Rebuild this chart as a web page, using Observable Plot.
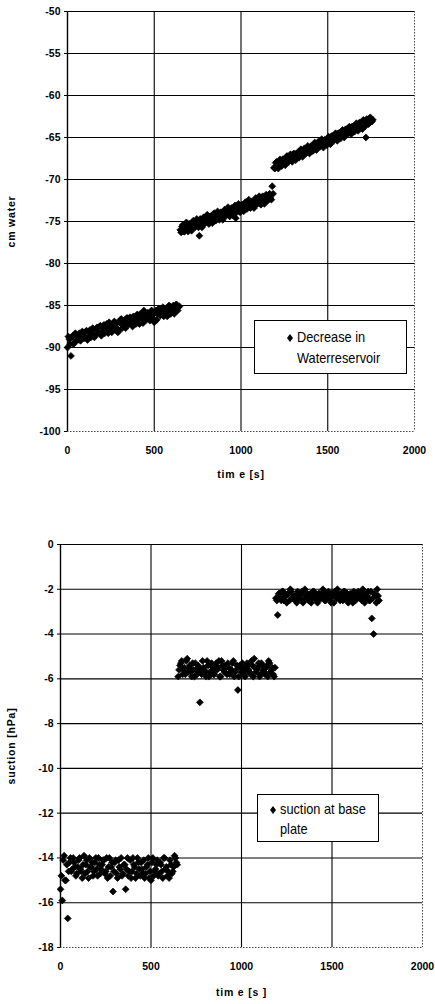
<!DOCTYPE html>
<html>
<head>
<meta charset="utf-8">
<script src="https://cdn.jsdelivr.net/npm/d3@7"></script>
<script src="https://cdn.jsdelivr.net/npm/@observablehq/plot@0.6"></script>
<style>
  html, body { margin: 0; padding: 0; background: #fff; }
  #wrap { position: relative; width: 435px; height: 1004px; overflow: hidden; }
  #wrap svg.chart { position: absolute; left: 0; }
  g[aria-label="y-axis label"] text, g[aria-label="x-axis label"] text { letter-spacing: 0.8px; }
  .legend { position: absolute; box-sizing: border-box; border: 1.3px solid #000; background: #fff;
            font-family: "Liberation Sans", Arial, sans-serif;
            font-size: 14.5px; color: #000; }
  .legend .row { position: absolute; white-space: nowrap; transform: scaleX(0.88); transform-origin: 0 50%; }
  .legend svg { position: absolute; }
</style>
</head>
<body>
<div id="wrap"></div>
<script>
// readings at full 10 s marks [s]
const time = [
  0,10,20,30,40,50,60,70,80,90,100,110,120,130,140,150,160,170,180,190,
  200,210,220,230,240,250,260,270,280,290,300,310,320,330,340,350,360,370,380,390,
  400,410,420,430,440,450,460,470,480,490,500,510,520,530,540,550,560,570,580,590,
  600,610,620,630,640,
  650,660,670,680,690,700,710,720,730,740,750,760,770,780,790,800,810,820,830,840,
  850,860,870,880,890,900,910,920,930,940,950,960,970,980,990,1000,1010,1020,1030,1040,
  1050,1060,1070,1080,1090,1100,1110,1120,1130,1140,1150,1160,1170,1180,
  1190,1200,1210,1220,1230,1240,1250,1260,1270,1280,1290,1300,1310,1320,1330,1340,
  1350,1360,1370,1380,1390,1400,1410,1420,1430,1440,1450,1460,1470,1480,1490,1500,
  1510,1520,1530,1540,1550,1560,1570,1580,1590,1600,1610,1620,1630,1640,1650,1660,
  1670,1680,1690,1700,1710,1720,1730,1740,1750,1760
];

// intermediate readings [s]
const time2 = [
  5,15,25,35,45,55,65,75,85,95,105,115,125,135,145,155,165,175,185,195,
  205,215,225,235,245,255,265,275,285,295,305,315,325,335,345,355,365,375,385,395,
  405,415,425,435,445,455,465,475,485,495,505,515,525,535,545,555,565,575,585,595,
  605,615,625,635,645,
  655,665,675,685,695,705,715,725,735,745,755,765,775,785,795,805,815,825,835,845,
  855,865,875,885,895,905,915,925,935,945,955,965,975,985,995,1005,1015,1025,1035,1045,
  1055,1065,1075,1085,1095,1105,1115,1125,1135,1145,1155,1165,1175,1185,
  1195,1205,1215,1225,1235,1245,1255,1265,1275,1285,1295,1305,1315,1325,1335,1345,
  1355,1365,1375,1385,1395,1405,1415,1425,1435,1445,1455,1465,1475,1485,1495,1505,
  1515,1525,1535,1545,1555,1565,1575,1585,1595,1605,1615,1625,1635,1645,1655,1665,
  1675,1685,1695,1705,1715,1725,1735,1745,1755
];

// Decrease in Waterreservoir [cm water] at `time`
const waterLevel = [
  -90.0,-89.0,-91.0,-88.6,-89.4,-88.5,-89.1,-88.3,-88.9,-88.2,-88.8,-88.0,-88.7,-87.9,-88.4,-87.8,-88.5,-87.6,-88.2,-87.4,
  -88.1,-87.3,-87.9,-87.5,-87.0,-87.8,-87.2,-86.9,-87.6,-88.2,-87.0,-86.6,-87.4,-86.8,-86.5,-87.2,-86.4,-87.0,-86.3,-86.9,
  -86.1,-86.7,-86.0,-86.5,-85.6,-86.3,-85.9,-86.4,-85.7,-86.2,-87.0,-85.6,-86.0,-85.4,-85.9,-85.2,-85.8,-85.3,-85.7,-85.1,
  -85.6,-85.0,-85.5,-84.9,-85.2,
  -76.0,-75.6,-76.2,-75.5,-75.9,-75.3,-75.8,-75.2,-75.6,-75.0,-75.4,-76.7,-75.1,-74.7,-75.2,-74.6,-75.0,-74.4,-74.9,-74.3,
  -74.7,-74.2,-74.6,-74.0,-74.4,-73.9,-74.3,-73.7,-74.1,-73.6,-74.0,-73.4,-74.6,-73.3,-73.8,-73.2,-73.6,-73.0,-73.4,-72.9,
  -73.3,-72.7,-73.1,-72.6,-72.9,-72.4,-72.8,-72.2,-72.6,-72.1,-72.4,-71.8,-72.2,-70.8,
  -68.6,-68.0,-68.3,-67.9,-68.2,-67.6,-67.9,-67.4,-67.8,-67.2,-67.6,-67.0,-67.4,-66.9,-67.2,-66.7,
  -67.0,-66.5,-66.9,-66.3,-66.7,-66.1,-66.5,-65.9,-66.3,-65.7,-66.0,-65.5,-65.9,-65.3,-65.6,-65.1,
  -65.5,-64.9,-65.2,-64.7,-65.0,-64.5,-64.8,-64.3,-64.6,-64.1,-64.4,-63.9,-64.2,-63.7,-64.0,-63.5,
  -63.8,-63.3,-63.6,-64.0,-63.1,-65.0,-63.0,-63.3,-62.8,-62.9
];

// Decrease in Waterreservoir [cm water] at `time2`
const waterLevel2 = [
  -88.7,-89.6,-88.8,-89.6,-88.3,-89.1,-88.4,-89.2,-88.1,-88.9,-88.1,-89.1,-88.1,-88.8,-87.7,-88.8,-87.8,-88.3,-87.5,-88.6,
  -87.6,-88.3,-87.2,-88.3,-87.5,-88.2,-87.1,-87.8,-87.1,-88.0,-86.7,-87.7,-86.9,-87.7,-86.5,-87.2,-86.5,-87.5,-86.4,-87.2,
  -86.1,-87.2,-86.3,-87.1,-85.8,-86.7,-85.9,-86.8,-85.6,-86.6,-85.7,-86.7,-85.4,-86.2,-85.4,-86.3,-85.4,-86.3,-85.0,-86.0,
  -85.2,-86.0,-84.9,-85.6,-85.1,
  -76.3,-75.4,-76.2,-75.1,-76.2,-75.3,-76.1,-74.9,-75.7,-74.7,-75.7,-74.7,-75.7,-74.5,-75.2,-74.2,-75.3,-74.4,-75.2,-74.0,
  -74.9,-73.8,-74.8,-73.9,-74.8,-73.6,-74.3,-73.3,-74.4,-73.4,-74.3,-73.1,-73.9,-72.9,-73.9,-73.0,-73.8,-72.7,-73.5,-72.4,
  -73.4,-72.6,-73.4,-72.2,-72.9,-72.0,-73.0,-72.0,-72.9,-71.8,-72.5,-71.7,-72.4,-71.7,
  -68.7,-67.9,-68.7,-67.6,-68.4,-67.6,-68.3,-67.2,-67.9,-67.0,-67.9,-66.9,-67.7,-66.8,-67.4,-66.4,
  -67.3,-66.3,-66.9,-66.0,-66.9,-66.0,-66.6,-65.6,-66.5,-65.5,-66.1,-65.2,-66.2,-65.3,-65.9,-64.9,
  -65.8,-64.8,-65.4,-64.5,-65.4,-64.5,-65.1,-64.1,-65.0,-64.0,-64.6,-63.7,-64.6,-63.7,-64.3,-63.3,
  -64.2,-63.2,-63.8,-62.9,-63.7,-62.8,-63.4,-62.6,-63.1
];

// suction at base plate [hPa] at `time`
const suction = [
  -15.4,-15.9,-13.9,-15.0,-16.7,-14.2,-14.6,-14.0,-14.4,-14.7,-14.1,-14.5,-14.9,-13.9,-14.3,-14.6,-14.0,-14.4,-14.8,-14.2,
  -14.5,-14.0,-14.7,-14.3,-14.1,-14.6,-14.9,-14.0,-14.4,-15.5,-14.2,-14.7,-14.1,-14.5,-14.8,-14.3,-15.4,-14.0,-14.6,-14.9,
  -14.0,-14.4,-14.7,-14.2,-14.8,-14.5,-14.1,-14.7,-14.3,-14.9,-15.0,-14.0,-14.6,-14.3,-14.8,-14.2,-14.6,-14.0,-14.5,-14.8,
  -14.9,-14.3,-14.6,-13.9,-14.2,
  -5.9,-5.4,-5.2,-5.6,-5.8,-5.1,-5.5,-5.7,-5.3,-5.9,-5.6,-5.4,-7.05,-5.8,-5.5,-5.7,-5.2,-5.9,-5.4,-5.6,
  -5.8,-5.3,-5.5,-5.9,-5.2,-5.6,-5.4,-5.8,-5.5,-5.7,-5.3,-5.9,-5.6,-6.5,-5.4,-5.7,-5.5,-5.9,-5.3,-5.6,
  -5.8,-5.4,-5.1,-5.7,-5.5,-5.9,-5.3,-5.6,-5.8,-5.4,-5.2,-5.7,-5.5,-5.9,
  -2.4,-3.15,-2.2,-2.5,-2.1,-2.3,-2.6,-2.2,-2.0,-2.4,-2.3,-2.5,-2.1,-2.4,-2.2,-2.6,
  -2.0,-2.3,-2.5,-2.2,-2.4,-2.1,-2.3,-2.6,-2.2,-2.4,-2.0,-2.5,-2.3,-2.1,-2.4,-2.2,
  -2.6,-2.3,-2.0,-2.4,-2.2,-2.5,-2.1,-2.3,-2.6,-2.2,-2.4,-2.1,-2.5,-2.3,-2.2,-2.4,
  -2.0,-2.6,-2.3,-2.1,-2.5,-3.3,-4.0,-2.3,-2.0,-2.5
];

// suction at base plate [hPa] at `time2`
const suction2 = [
  -14.8,-14.1,-15.0,-14.3,-14.6,-14.0,-14.5,-14.2,-14.8,-14.4,-14.0,-14.6,-14.3,-14.7,-14.1,-14.9,-14.4,-14.2,-14.6,-14.0,
  -14.8,-14.3,-14.5,-14.1,-14.7,-14.0,-14.4,-14.8,-14.2,-14.6,-14.1,-14.9,-14.4,-14.0,-14.7,-14.3,-14.5,-14.8,-14.1,-14.6,
  -14.3,-14.9,-14.0,-14.5,-14.2,-14.7,-14.9,-14.4,-14.0,-14.6,-14.2,-14.8,-14.5,-14.1,-14.7,-14.3,-14.9,-14.0,-14.4,-14.6,
  -14.1,-14.7,-14.4,-14.0,-14.3,
  -5.6,-5.3,-5.8,-5.5,-5.2,-5.7,-5.4,-5.9,-5.6,-5.3,-5.8,-5.5,-5.7,-5.2,-5.6,-5.9,-5.4,-5.7,-5.3,-5.8,
  -5.5,-5.6,-5.2,-5.9,-5.4,-5.7,-5.5,-5.3,-5.8,-5.6,-5.2,-5.7,-5.4,-5.9,-5.5,-5.3,-5.8,-5.6,-5.4,-5.7,
  -5.2,-5.9,-5.5,-5.6,-5.3,-5.8,-5.4,-5.7,-5.5,-5.9,-5.3,-5.6,-5.8,-5.5,
  -2.5,-2.2,-2.4,-2.1,-2.5,-2.3,-2.2,-2.5,-2.1,-2.4,-2.3,-2.6,-2.2,-2.4,-2.1,-2.5,
  -2.3,-2.2,-2.4,-2.6,-2.1,-2.3,-2.5,-2.2,-2.4,-2.3,-2.1,-2.5,-2.2,-2.4,-2.6,-2.3,
  -2.1,-2.4,-2.2,-2.5,-2.3,-2.1,-2.4,-2.2,-2.5,-2.3,-2.6,-2.2,-2.4,-2.1,-2.3,-2.5,
  -2.2,-2.4,-2.3,-2.5,-2.1,-2.4,-2.2,-2.6,-2.3
];

const xTicks = [0, 500, 1000, 1500, 2000];
const yTicksWater = [-100, -95, -90, -85, -80, -75, -70, -65, -60, -55, -50];
const yTicksSuction = [-18, -16, -14, -12, -10, -8, -6, -4, -2, 0];

const pairs = (ts, vs) => ts.map((t, i) => ({t, v: vs[i]}));
const waterData = pairs(time, waterLevel).concat(pairs(time2, waterLevel2));
const suctionData = pairs(time, suction).concat(pairs(time2, suction2));

const baseStyle = {fontFamily: '"Liberation Sans", Arial, sans-serif', fontSize: "10.5px", fontWeight: "bold", color: "#000", background: "#fff", overflow: "visible"};

function chart({data, height, margins, yDomain, yTicks, yLabel, xLabel, yLabelOffset, xLabelOffset}) {
  const [mt, mr, mb, ml] = margins;
  return Plot.plot({
    width: 435, height,
    marginTop: mt, marginRight: mr, marginBottom: mb, marginLeft: ml,
    style: baseStyle,
    x: {domain: [0, 2000]},
    y: {domain: yDomain},
    marks: [
      Plot.gridY(yTicks.slice(1), {stroke: "#000", strokeOpacity: 1, strokeWidth: 1.1}),
      Plot.gridX(xTicks.slice(1, -1), {stroke: "#000", strokeOpacity: 1, strokeWidth: 1.1}),
      Plot.ruleX([2000], {stroke: "#444", strokeDasharray: "1.5,1.5"}),
      Plot.ruleY([yDomain[0]], {stroke: "#444", strokeDasharray: "1.5,1.5"}),
      Plot.ruleX([0], {stroke: "#000", strokeWidth: 1.4}),
      Plot.axisY(yTicks, {tickSize: 3, tickPadding: 4, tickFormat: d => `${d}`, label: yLabel, labelAnchor: "center", labelArrow: "none", labelOffset: yLabelOffset}),
      Plot.axisX(xTicks, {tickSize: 0, tickPadding: 15, tickFormat: d => `${d}`, label: xLabel, labelAnchor: "center", labelArrow: "none", labelOffset: xLabelOffset}),
      Plot.dot(data, {x: "t", y: "v", symbol: "diamond2", fill: "#000", stroke: "#000", strokeWidth: 0.7, r: 3.1})
    ]
  });
}

const wrap = document.getElementById("wrap");

const c1 = chart({data: waterData, height: 500, margins: [11, 21, 69, 67], yDomain: [-100, -50], yTicks: yTicksWater,
  yLabel: "cm water", xLabel: "tim e [s]", yLabelOffset: 60, xLabelOffset: 46});
c1.classList.add("chart"); c1.style.top = "0px";
wrap.appendChild(c1);

const c2 = chart({data: suctionData, height: 504, margins: [44, 13, 57, 60], yDomain: [-18, 0], yTicks: yTicksSuction,
  yLabel: "suction [hPa]", xLabel: "tim e [s ]", yLabelOffset: 53, xLabelOffset: 48});
c2.classList.add("chart"); c2.style.top = "500px";
wrap.appendChild(c2);

function legend({left, top, width, height, lines, dx, textX, firstY, lineH}) {
  const box = document.createElement("div");
  box.className = "legend";
  Object.assign(box.style, {left: left + "px", top: top + "px", width: width + "px", height: height + "px"});
  const sym = document.createElementNS("http://www.w3.org/2000/svg", "svg");
  sym.setAttribute("width", 8); sym.setAttribute("height", 10);
  Object.assign(sym.style, {left: (dx - 4) + "px", top: (firstY - 5) + "px"});
  sym.innerHTML = '<path d="M4,1 L7,5 L4,9 L1,5 Z" fill="#000"/>';
  box.appendChild(sym);
  lines.forEach((s, i) => {
    const r = document.createElement("div");
    r.className = "row";
    r.textContent = s;
    Object.assign(r.style, {left: textX + "px", top: (firstY + i * lineH - 9) + "px"});
    box.appendChild(r);
  });
  wrap.appendChild(box);
}

legend({left: 254, top: 320, width: 153, height: 54, lines: ["Decrease in", "Waterreservoir"], dx: 35, textX: 42, firstY: 17, lineH: 21});
legend({left: 257, top: 794, width: 122, height: 48, lines: ["suction at base", "plate"], dx: 15, textX: 22, firstY: 15, lineH: 20});
</script>
</body>
</html>
